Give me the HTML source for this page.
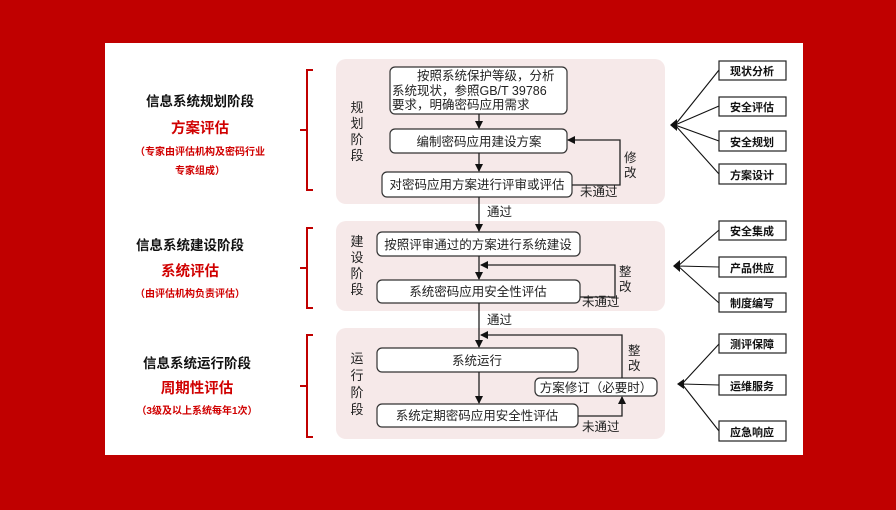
<!DOCTYPE html>
<html><head><meta charset="utf-8"><style>
html,body{margin:0;padding:0;background:#c00000;width:896px;height:510px;overflow:hidden}
svg{position:absolute;left:0;top:0}
text{font-family:"Liberation Sans","Noto Sans CJK SC",sans-serif}
</style></head><body>
<svg width="896" height="510" viewBox="0 0 896 510" xmlns="http://www.w3.org/2000/svg">
<defs><marker id="a" markerWidth="8" markerHeight="8" refX="7" refY="4" orient="auto" markerUnits="userSpaceOnUse"><path d="M0,0 L8,4 L0,8 z" fill="#111"/></marker></defs>
<rect x="105" y="43" width="698" height="412" fill="#fff"/>
<g fill="#f6e9e9">
<rect x="336" y="59" width="329" height="145" rx="10"/>
<rect x="336" y="221" width="329" height="90" rx="10"/>
<rect x="336" y="328" width="329" height="111" rx="10"/>
</g>
<g fill="none" stroke="#c00000" stroke-width="2">
<path d="M313,70 H307 V190 H313 M307,130 H300"/>
<path d="M313,228 H307 V308 H313 M307,268 H300"/>
<path d="M313,335 H307 V437 H313 M307,386 H300"/>
</g>
<g text-anchor="middle" font-weight="bold">
<text x="200" y="106" font-size="13.5" fill="#111">信息系统规划阶段</text>
<text x="200" y="133" font-size="14.5" fill="#d00000">方案评估</text>
<text x="200" y="155" font-size="10" fill="#d00000">（专家由评估机构及密码行业</text>
<text x="200" y="174" font-size="10" fill="#d00000">专家组成）</text>
<text x="190" y="250" font-size="13.5" fill="#111">信息系统建设阶段</text>
<text x="190" y="276" font-size="14.5" fill="#d00000">系统评估</text>
<text x="190" y="297" font-size="10" fill="#d00000">（由评估机构负责评估）</text>
<text x="197" y="368" font-size="13.5" fill="#111">信息系统运行阶段</text>
<text x="197" y="393" font-size="14.5" fill="#d00000">周期性评估</text>
<text x="197" y="414" font-size="10" fill="#d00000">（3级及以上系统每年1次）</text>
</g>
<g font-size="13" fill="#222" text-anchor="middle">
<text x="357" y="112">规</text><text x="357" y="128">划</text><text x="357" y="144">阶</text><text x="357" y="160">段</text>
<text x="357" y="246">建</text><text x="357" y="262">设</text><text x="357" y="278">阶</text><text x="357" y="294">段</text>
<text x="357" y="363">运</text><text x="357" y="380">行</text><text x="357" y="397">阶</text><text x="357" y="414">段</text>
</g>
<g fill="#fff" stroke="#333" stroke-width="1.2">
<rect x="390" y="67" width="177" height="47" rx="5"/>
<rect x="390" y="129" width="177" height="24" rx="5"/>
<rect x="382" y="172" width="190" height="25" rx="5"/>
<rect x="377" y="232" width="203" height="24" rx="5"/>
<rect x="377" y="280" width="203" height="23" rx="5"/>
<rect x="377" y="348" width="201" height="24" rx="5"/>
<rect x="377" y="404" width="201" height="23" rx="5"/>
<rect x="535" y="378" width="122" height="18" rx="5"/>
</g>
<g font-size="12.5" fill="#222">
<text x="417" y="80">按照系统保护等级，分析</text>
<text x="392" y="95">系统现状，参照GB/T 39786</text>
<text x="392" y="109">要求，明确密码应用需求</text>
</g>
<g font-size="12.5" fill="#222" text-anchor="middle">
<text x="479" y="146">编制密码应用建设方案</text>
<text x="477" y="189">对密码应用方案进行评审或评估</text>
<text x="478" y="249">按照评审通过的方案进行系统建设</text>
<text x="478" y="296">系统密码应用安全性评估</text>
<text x="477" y="365">系统运行</text>
<text x="477" y="420">系统定期密码应用安全性评估</text>
<text x="596" y="392">方案修订（必要时）</text>
</g>
<g fill="none" stroke="#222" stroke-width="1.3">
<path d="M479,114 V128" marker-end="url(#a)"/>
<path d="M479,153 V171" marker-end="url(#a)"/>
<path d="M572,185 H620 V140 H568" marker-end="url(#a)"/>
<path d="M479,197 V231" marker-end="url(#a)"/>
<path d="M479,256 V279" marker-end="url(#a)"/>
<path d="M580,297 H615 V265 H481" marker-end="url(#a)"/>
<path d="M479,303 V347" marker-end="url(#a)"/>
<path d="M622,378 V335 H481" marker-end="url(#a)"/>
<path d="M479,372 V403" marker-end="url(#a)"/>
<path d="M578,416 H622 V397" marker-end="url(#a)"/>
</g>
<g font-size="12.5" fill="#222">
<text x="487" y="216">通过</text>
<text x="487" y="324">通过</text>
<text x="580" y="196">未通过</text>
<text x="582" y="306">未通过</text>
<text x="582" y="431">未通过</text>
<text x="624" y="162">修</text><text x="624" y="177">改</text>
<text x="619" y="276">整</text><text x="619" y="291">改</text>
<text x="628" y="355">整</text><text x="628" y="370">改</text>
</g>
<g stroke="#111" stroke-width="1.1" fill="none">
<path d="M675,125 L719,70 M675,125 L719,106 M675,125 L719,141 M675,125 L719,174"/>
<path d="M678,266 L719,230 M678,266 L719,267 M678,266 L719,303"/>
<path d="M682,384 L719,344 M682,384 L719,385 M682,384 L719,431"/>
</g>
<g fill="#111"><path d="M670,125 l7,-6 v12 z"/><path d="M673,266 l7,-6 v12 z"/><path d="M677,384 l7,-5 v10 z"/></g>
<g fill="#fff" stroke="#222" stroke-width="1.2">
<rect x="719" y="61" width="67" height="19"/><rect x="719" y="97" width="67" height="19"/>
<rect x="719" y="131" width="67" height="20"/><rect x="719" y="164" width="67" height="20"/>
<rect x="719" y="221" width="67" height="19"/><rect x="719" y="257" width="67" height="20"/>
<rect x="719" y="293" width="67" height="19"/><rect x="719" y="334" width="67" height="19"/>
<rect x="719" y="375" width="67" height="20"/><rect x="719" y="421" width="67" height="20"/>
</g>
<g font-size="11" font-weight="bold" fill="#111" text-anchor="middle">
<text x="752" y="75">现状分析</text><text x="752" y="111">安全评估</text>
<text x="752" y="146">安全规划</text><text x="752" y="179">方案设计</text>
<text x="752" y="235">安全集成</text><text x="752" y="272">产品供应</text>
<text x="752" y="307">制度编写</text><text x="752" y="348">测评保障</text>
<text x="752" y="390">运维服务</text><text x="752" y="436">应急响应</text>
</g>
</svg>
</body></html>
